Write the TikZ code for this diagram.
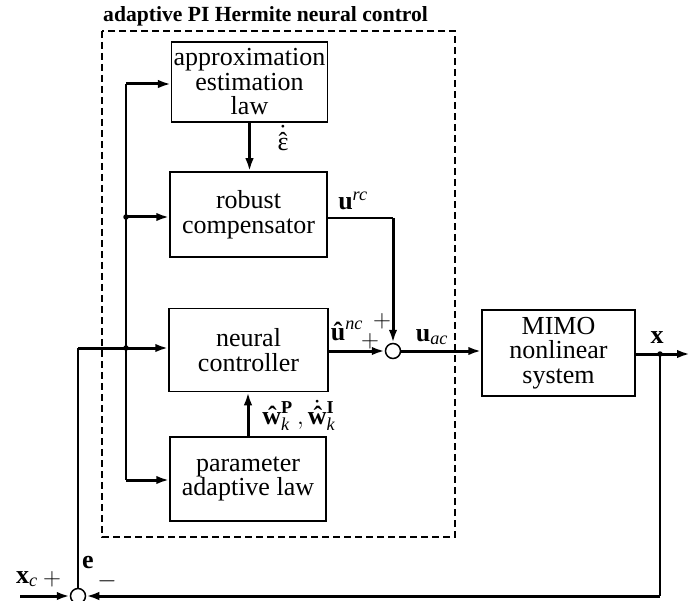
\documentclass[tikz,border=0pt]{standalone}
\usepackage{amsmath,amssymb}
\usepackage{fontspec}
\setmainfont{Liberation Serif}
\usepackage{tikz}
\usetikzlibrary{arrows.meta}
\newcommand{\bv}[1]{\text{\textbf{#1}}}
\newcommand{\iv}[1]{\text{\textit{#1}}}
\newcommand{\dotover}[2]{\text{\ooalign{#1\crcr\hidewidth\raisebox{#2}{˙}\hidewidth\cr}}}
\newcommand{\epsdh}{\text{\ooalign{ε\crcr\hidewidth ˆ\hidewidth\crcr\hidewidth\raisebox{0.28em}{˙}\hidewidth\cr}}}

\begin{document}
\begin{tikzpicture}[x=1pt,y=-1pt,
    >={Latex[length=13pt,width=8.5pt]},
    blk/.style={draw,line width=1.5pt,minimum width=156pt,minimum height=84pt,align=center,inner sep=2pt,font=\fontsize{26}{24.5}\selectfont},
    sig/.style={line width=3pt},
    wire/.style={line width=1.5pt},
    lbl/.style={inner sep=0pt,font=\fontsize{26}{28}\selectfont},
    sumnode/.style={draw,circle,line width=1.5pt,minimum size=15pt,inner sep=0pt,fill=white},
    dot/.style={circle,fill,inner sep=0pt,minimum size=5.5pt}]
                \useasboundingbox (0,0) rectangle (695,601);

                \draw[line width=2.4pt,dash pattern=on 7pt off 4pt] (102,31) rectangle (455,537);
                \node[anchor=base west,inner sep=0pt,font=\fontsize{21.6}{24}\selectfont\bfseries] (title) at (103,22) {adaptive PI Hermite neural control};

                \node[blk,minimum width=155pt,minimum height=80pt] (ael) at (249.5,82) {approximation\\estimation\\law};
                \node[blk,minimum width=157pt,minimum height=85pt] (rc) at (248.5,214.5) {robust\\compensator};
                \node[blk,minimum width=159pt,minimum height=83pt] (nc) at (248.5,350) {neural\\controller};
                \node[blk,minimum width=156pt,minimum height=84pt] (pal) at (248,479) {parameter\\adaptive law};
                \node[blk,minimum width=153pt,minimum height=86pt] (mimo) at (558.5,353) {MIMO\\nonlinear\\system};

                \node[sumnode] (sac) at (393,351) {};
                \node[sumnode] (se) at (78,596) {};

                \coordinate (bustop) at (126,84);
                \coordinate (busbot) at (126,480);
                \coordinate (busrc) at (126,217);
                \coordinate (busnc) at (126,348);
                \coordinate (ecorner) at (78,348);
                \coordinate (xcin) at (20,596);
                \coordinate (xout) at (690,354);
                \coordinate (xtap) at (660,354);

                \draw[wire] (bustop) -- (busbot);
                \draw[sig,->] (bustop) -- (bustop -| ael.west);
                \draw[sig,->] (busrc) -- (busrc -| rc.west);
                \draw[sig,->] (busbot) -- (busbot -| pal.west);
                \node[dot] at (busrc) {};
                \node[dot] at (busnc) {};

                \draw[wire] (se.north) -- (ecorner);
                \draw[sig,->] (ecorner) -- (ecorner -| nc.west);
                \draw[sig,->] (xcin) -- (se.west);

                \draw[sig,->] (ael.south) -- (ael.south |- rc.north);
                \draw[sig,->] (pal.north) -- (pal.north |- nc.south);

                \draw[wire] (rc.east |- 0,218) -- (sac |- 0,218) coordinate (rcturn);
                \draw[sig,->] (rcturn) -- (sac.north);
                \draw[sig,->] (nc.east |- sac) -- (sac.west);
                \draw[sig,->] (sac.east) -- (sac -| mimo.west);

                \draw[sig,->] (mimo.east |- xout) -- (xout);
                \node[dot] at (xtap) {};
                \draw[wire] (xtap) -- (xtap |- se) coordinate (fbturn);
                \draw[sig,->] (fbturn) -- (se.east);

                \node[lbl] (leps) at (283,144) {$\epsdh$};
                \node[lbl] (lurc) at (353,201) {$\bv{u}^{\iv{rc}}$};
                \node[lbl] (lunc) at (347,331) {$\bv{û}^{\iv{nc}}$};
                \node[lbl] (lp1) at (382,321) {$+$};
                \node[lbl] (lp2) at (370,341) {$+$};
                \node[lbl] (luac) at (432,337) {$\bv{u}_{\iv{ac}}$};
                \node[lbl] (lx) at (657,338) {$\bv{x}$};
                \node[lbl] (lw) at (299,416) {$\bv{ŵ}^{\bv{P}}_{\iv{k}}\,,\dotover{\textbf{ŵ}}{0.28em}^{\bv{I}}_{\iv{k}}$};
                \node[lbl] (lxc) at (27,579) {$\bv{x}_{\iv{c}}$};
                \node[lbl] (lp3) at (52,579) {$+$};
                \node[lbl] (le) at (88,563) {$\bv{e}$};
                \node[lbl] (lm) at (107,581) {$-$};
            \end{tikzpicture}
\end{document}
